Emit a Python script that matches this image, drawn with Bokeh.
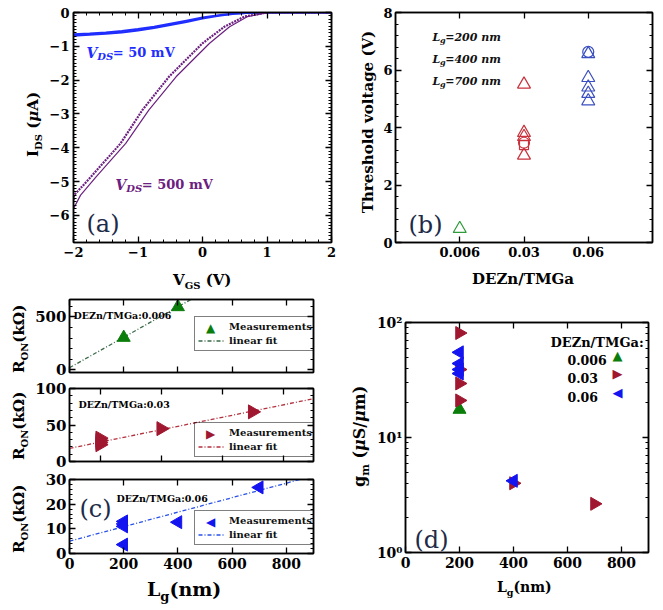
import math
from bokeh.plotting import figure
from bokeh.models import (Range1d, FactorRange, LinearAxis, LogAxis, CategoricalAxis, FixedTicker,
                          SingleIntervalTicker, Label, Legend, LegendItem, CustomJSTickFormatter, Div)
from bokeh.layouts import column, row
from bokeh.embed import file_html
from bokeh.resources import INLINE

# ---------------- data ----------------
# (a) transfer curves, I_DS (uA) vs V_GS (V)
a_vgs_50 = [-2, -1.75, -1.5, -1.25, -1, -0.75, -0.5, -0.25, 0, 0.25, 0.5, 0.75, 1, 1.5, 2]
a_ids_50_fwd = [-0.64, -0.62, -0.59, -0.55, -0.49, -0.42, -0.33, -0.24, -0.15, -0.08, -0.03, -0.01, 0, 0, 0]
a_ids_50_rev = [-0.69, -0.66, -0.63, -0.59, -0.53, -0.46, -0.37, -0.28, -0.18, -0.10, -0.04, -0.01, 0, 0, 0]
a_vgs_500_fwd = [-2, -1.99, -1.73, -1.27, -0.93, -0.52, 0.0, 0.34, 0.65, 0.91, 1.0, 1.5, 2]
a_ids_500_fwd = [-5.55, -5.40, -4.86, -3.87, -2.88, -1.90, -0.91, -0.42, -0.12, -0.03, 0, 0, 0]
a_vgs_500_rev = [-2, -1.89, -1.65, -1.19, -0.83, -0.41, 0.11, 0.42, 0.70, 0.95, 1.05, 1.5, 2]
a_ids_500_rev = [-5.8, -5.40, -4.86, -3.87, -2.88, -1.90, -0.91, -0.42, -0.12, -0.03, 0, 0, 0]

# (b) threshold voltage vs DEZn/TMGa
b_ratios = ["0.006", "0.03", "0.06"]
b_green_tri = [0.48]
b_red_tri = [5.50, 3.82, 3.68, 3.03]
b_red_circle = [3.47]
b_red_square = [3.39]
b_blue_tri = [6.56, 5.73, 5.40, 5.18, 4.92]
b_blue_circle = [6.63]
b_lg_labels = ["200", "400", "700"]

# (c) R_ON vs L_g
c1_lg = [200, 400]
c1_ron = [305, 595]
c1_fit_lg = [0, 450]
c1_fit_ron = [20, 668]
c2_lg = [200, 200, 200, 200, 400, 700]
c2_ron = [23, 26, 29, 32, 45, 68]
c2_fit_lg = [100, 900]
c2_fit_ron = [18, 86]
c3_lg = [200, 200, 200, 200, 400, 700]
c3_ron = [13, 12, 11, 3.6, 12.7, 26.8]
c3_fit_lg = [0, 850]
c3_fit_ron = [5, 30]

# (d) g_m vs L_g
d_green_lg = [200]
d_green_gm = [17.5]
d_red_lg = [200, 200, 200, 200, 400, 700]
d_red_gm = [81, 39, 29.5, 21, 4.0, 2.65]
d_blue_lg = [200, 200, 200, 200, 400]
d_blue_gm = [55, 44, 39, 36, 4.2]
d_legend_labels = ["0.006", "0.03", "0.06"]

# ---------------- styling helpers ----------------
SERIF = "DejaVu Serif"
NAVY = "#1d2b48"
UP, RIGHT, LEFT = "\u25B2\uFE0E", "\u25B6\uFE0E", "\u25C0\uFE0E"
CW = {' ': 0.348, '(': 0.457, ')': 0.457, '/': 0.365, '=': 0.838, '.': 0.380, ':': 0.380,
      'A': 0.774, 'D': 0.830, 'E': 0.730, 'G': 0.821, 'I': 0.465, 'L': 0.688, 'M': 1.055,
      'N': 0.846, 'O': 0.833, 'R': 0.770, 'S': 0.720, 'T': 0.682, 'V': 0.774, 'Z': 0.725,
      'a': 0.596, 'd': 0.640, 'e': 0.592, 'g': 0.640, 'i': 0.320, 'k': 0.613, 'l': 0.320,
      'm': 0.948, 'n': 0.644, 'o': 0.602, 'r': 0.478, 't': 0.402, 'μ': 0.660, 'Ω': 0.840}
for _d in "0123456789":
    CW[_d] = 0.696
ANCHOR = {}


def tw(s, size):
    return sum(CW.get(c, 0.62) for c in s) * size


def mkfig(w, h, l, r, t, b, xr, yr, y_type="linear", x0=None):
    p = figure(width=w, height=h, x_range=xr, y_range=yr, y_axis_type=y_type,
               toolbar_location=None, output_backend="svg", title=None,
               min_border_left=l, min_border_right=r, min_border_top=t, min_border_bottom=b)
    p.xgrid.visible = False
    p.ygrid.visible = False
    p.outline_line_color = "black"
    p.outline_line_width = 1.5
    p.background_fill_color = "white"
    p.border_fill_color = "white"
    ANCHOR[id(p)] = (xr.start if x0 is None else x0, yr.start)
    return p


def sty(ax, size=13, show=True, standoff=4):
    ax.axis_line_color = "black"
    ax.axis_line_width = 1.5
    ax.major_tick_in = 6
    ax.major_tick_out = 0
    ax.minor_tick_in = 3
    ax.minor_tick_out = 0
    ax.major_tick_line_color = "black"
    ax.major_tick_line_width = 1.3
    ax.minor_tick_line_color = "black"
    ax.minor_tick_line_width = 1
    ax.major_label_text_font = SERIF
    ax.major_label_text_font_style = "bold"
    ax.major_label_text_color = "black"
    ax.axis_label = None
    if show:
        ax.major_label_text_font_size = f"{size}px"
        ax.major_label_standoff = standoff
    else:
        ax.major_label_text_font_size = "0px"
        ax.major_label_standoff = 0
        ax.formatter = CustomJSTickFormatter(code="return ''")


def mirror(p, xt, yt, xcls=LinearAxis, ycls=LinearAxis):
    top = xcls(ticker=xt)
    right = ycls(ticker=yt)
    sty(top, show=False)
    sty(right, show=False)
    p.add_layout(top, "above")
    p.add_layout(right, "right")


def put(p, dx, dy, text, size, color="black", style="bold", angle=0.0, align="left",
        baseline="alphabetic", font=SERIF, level="annotation"):
    x0, y0 = ANCHOR[id(p)]
    p.add_layout(Label(x=x0, y=y0, x_offset=dx, y_offset=dy, text=text, level=level,
                       text_font=font, text_font_size=f"{size}px", text_font_style=style,
                       text_color=color, angle=angle, text_align=align, text_baseline=baseline))


def key(p, dx, dy, sym, color, size=13):
    # legend key symbol centred at (dx, dy) from the frame's bottom-left corner
    put(p, dx, dy, sym, size, color=color, style="normal", align="center", baseline="middle",
        font="DejaVu Sans")


def rich(p, dx, dy, pieces, color="black"):
    adv = 0.0
    for text, size, style, sub in pieces:
        put(p, dx + adv, dy - sub, text, size, color, style)
        adv += tw(text, size)


# ---- HTML labels for the texts that sit outside the plot frames ----
def span(text, size, italic=False, sub=0.0):
    st = f"font-size:{size}px;"
    if italic:
        st += "font-style:italic;"
    if sub:
        st += f"position:relative;top:{sub}px;"
    return f'<span style="{st}">{text}</span>'


def hbox(left, top, size, inner, width=None):
    st = (f"position:absolute;left:{left}px;top:{top}px;font-family:'DejaVu Serif';font-weight:bold;"
          f"font-size:{size}px;line-height:1;white-space:nowrap;color:black;")
    if width:
        st += f"width:{width}px;text-align:center;"
    return f'<div style="{st}">{inner}</div>'


def vbox(left, top, size, inner, width=None):
    st = (f"position:absolute;left:{left}px;top:{top}px;font-family:'DejaVu Serif';font-weight:bold;"
          f"font-size:{size}px;line-height:1;white-space:nowrap;color:black;"
          f"transform-origin:0 0;transform:rotate(-90deg);")
    if width:
        st += f"width:{width}px;text-align:center;"
    return f'<div style="{st}">{inner}</div>'


def holder(w, h, children):
    html = (f'<div style="position:relative;width:{w}px;height:{h}px;overflow:visible;">'
            + "".join(children) + "</div>")
    return Div(text=html, width=w, height=h, margin=0, styles={"overflow": "visible"})


BASE = 0.846  # baseline position inside a line-height:1 box, DejaVu Serif

# ---------------- (a) ----------------
pa = mkfig(300, 262, 28, 14, 12, 20, Range1d(-2, 2), Range1d(-6.8, 0))
xt_a = SingleIntervalTicker(interval=1, num_minor_ticks=5)
yt_a = SingleIntervalTicker(interval=1, num_minor_ticks=10)
pa.below[0].ticker = xt_a
pa.left[0].ticker = yt_a
sty(pa.below[0], 13)
sty(pa.left[0], 13)
mirror(pa, xt_a, yt_a)
BLUE_A = "#1f2dff"
PURPLE = "#6c2080"
pa.line(a_vgs_50, a_ids_50_rev, line_color=BLUE_A, line_width=2)
pa.line(a_vgs_50, a_ids_50_fwd, line_color=BLUE_A, line_width=2)
pa.line(a_vgs_500_rev, a_ids_500_rev, line_color=PURPLE, line_width=1.2)
pa.line(a_vgs_500_fwd, a_ids_500_fwd, line_color=PURPLE, line_width=2.2, line_dash="2 1")
rich(pa, 13, 190, [("V", 14, "bold italic", 0), ("DS", 10, "bold italic", 4), ("= 50 mV", 13, "bold", 0)],
     color=BLUE_A)
rich(pa, 42, 58, [("V", 14, "bold italic", 0), ("DS", 10, "bold italic", 4), ("= 500 mV", 13, "bold", 0)],
     color=PURPLE)
put(pa, 13, 19, "(a)", 24, color=NAVY, style="normal")

div_ay = holder(45, 296, [vbox(39 - BASE * 15, 157, 15,
                               span("I", 15) + span("DS", 10, sub=3.5) + span(" (", 15)
                               + span("&mu;", 15, italic=True) + span("A)", 15))])
div_ax = holder(300, 34, [hbox(128, 24 - BASE * 15, 15,
                               span("V", 15) + span("GS", 10, sub=3.5) + span(" (V)", 15))])

# ---------------- (b) ----------------
# factor coordinates: the three ratios sit at 0.5, 1.5, 2.5; padding makes the range -0.5 .. 3.5
pb = mkfig(281, 262, 16, 8, 12, 20, FactorRange(factors=b_ratios, range_padding=0.5,
                                                  range_padding_units="absolute"), Range1d(0, 8), x0=-0.5)
yt_b = SingleIntervalTicker(interval=2, num_minor_ticks=5)
pb.left[0].ticker = yt_b
sty(pb.below[0], 13)
sty(pb.left[0], 13, standoff=3)
mirror(pb, pb.below[0].ticker, yt_b, xcls=CategoricalAxis)
B_RED, B_BLUE, B_GREEN = "#c8323c", "#3a4fc0", "#2e9a3a"
pb.scatter([b_ratios[0]] * len(b_green_tri), b_green_tri, marker="triangle", size=13,
           fill_color=None, line_color=B_GREEN, line_width=1.2)
pb.scatter([b_ratios[1]] * len(b_red_tri), b_red_tri, marker="triangle", size=13,
           fill_color=None, line_color=B_RED, line_width=1.2)
pb.scatter([b_ratios[1]] * len(b_red_circle), b_red_circle, marker="circle", size=11,
           fill_color=None, line_color=B_RED, line_width=1.2)
pb.scatter([b_ratios[1]] * len(b_red_square), b_red_square, marker="square", size=9,
           fill_color=None, line_color=B_RED, line_width=1.2)
pb.scatter([b_ratios[2]] * len(b_blue_tri), b_blue_tri, marker="triangle", size=13,
           fill_color=None, line_color=B_BLUE, line_width=1.2)
pb.scatter([b_ratios[2]] * len(b_blue_circle), b_blue_circle, marker="circle", size=11,
           fill_color=None, line_color=B_BLUE, line_width=1.2)
put(pb, 13, 18, "(b)", 24, color=NAVY, style="normal")
for i, lab in enumerate(b_lg_labels):
    rich(pb, 37, 205.5 - 22 * i, [("L", 11, "bold italic", 0), ("g", 8, "bold italic", 3),
                                   ("=" + lab + " nm", 11, "bold italic", 0)], color="#111111")

div_by = holder(34, 296, [vbox(29 - BASE * 15, 221.5, 15, "Threshold voltage (V)", width=200)])
div_bx = holder(281, 34, [hbox(44, 23 - BASE * 15, 15, "DEZn/TMGa", width=200)])

# ---------------- (c) ----------------
C_GREEN, C_RED, C_BLUE = "#0b7d0b", "#a01830", "#1414f0"
F_GREEN, F_RED, F_BLUE = "#3a6a48", "#b4303c", "#2a52e8"


def cpanel(h, top, bottom, xr, yr, yint, show_x):
    p = mkfig(320, h, 36, 39, top, bottom, xr, yr)
    xt = SingleIntervalTicker(interval=200, num_minor_ticks=0)
    yt = SingleIntervalTicker(interval=yint, num_minor_ticks=5)
    p.below[0].ticker = xt
    p.left[0].ticker = yt
    sty(p.below[0], 14, show=show_x)
    sty(p.left[0], 15, standoff=3)
    mirror(p, xt, yt)
    return p


def c_legend(p, sym, color, lr, loc):
    x, y = loc
    # transparent legend body so that the key symbol drawn underneath stays visible
    p.add_layout(Legend(items=[LegendItem(label="Measurements", renderers=[]),
                               LegendItem(label="linear fit", renderers=[lr])],
                        location=loc, orientation="vertical", border_line_color="black",
                        border_line_width=1.5, background_fill_alpha=0.0,
                        padding=3, spacing=1, margin=0, glyph_height=13, glyph_width=26,
                        label_height=13, label_standoff=5, label_text_font=SERIF,
                        label_text_font_size="10px", label_text_font_style="bold",
                        label_text_color="#111111"))
    key(p, x + 3 + 13, y + 23.5, sym, color, size=12)


pc1 = cpanel(84, 3, 8, Range1d(0, 900), Range1d(-25, 665), 500, False)
l1 = pc1.line(c1_fit_lg, c1_fit_ron, line_color=F_GREEN, line_width=1.3, line_dash="4 2 1 2")
pc1.scatter(c1_lg, c1_ron, marker="triangle", size=13, fill_color=C_GREEN, line_color=C_GREEN)
c_legend(pc1, UP, C_GREEN, l1, (125, 21))
put(pc1, 4, 57, "DEZn/TMGa:0.006", 9.5)

pc2 = cpanel(90, 8, 9, Range1d(100, 900), Range1d(0, 100), 50, False)
l2 = pc2.line(c2_fit_lg, c2_fit_ron, line_color=F_RED, line_width=1.3, line_dash="4 2 1 2")
pc2.scatter(c2_lg, c2_ron, marker="triangle", angle=-math.pi / 2, size=14,
            fill_color=C_RED, line_color=C_RED)
c_legend(pc2, RIGHT, C_RED, l2, (125, 4))
put(pc2, 9, 57, "DEZn/TMGa:0.03", 9.5)

pc3 = cpanel(103, 9, 20, Range1d(0, 900), Range1d(0, 30), 10, True)
l3 = pc3.line(c3_fit_lg, c3_fit_ron, line_color=F_BLUE, line_width=1.3, line_dash="4 2 1 2")
pc3.scatter(c3_lg, c3_ron, marker="triangle", angle=math.pi / 2, size=13,
            fill_color=C_BLUE, line_color=C_BLUE)
c_legend(pc3, LEFT, C_BLUE, l3, (125, 8))
put(pc3, 47, 55, "DEZn/TMGa:0.06", 9.5)
put(pc3, 10, 45, "(c)", 24, color=NAVY, style="normal")

ron_html = span("R", 15) + span("ON", 10, sub=4) + span("(k&Omega;)", 15)
div_cy = holder(32, 314, [vbox(24.5 - BASE * 15, t, 15, ron_html) for t in (77, 164, 257)])
div_cx = holder(320, 35, [hbox(115, 23 - BASE * 19, 19,
                               span("L", 19) + span("g", 13, sub=5) + span("(nm)", 19))])

# ---------------- (d) ----------------
pd_ = mkfig(287, 276, 30, 12, 26, 20, Range1d(0, 900), Range1d(1, 100), y_type="log")
xt_d = SingleIntervalTicker(interval=200, num_minor_ticks=0)
yt_d = FixedTicker(ticks=[1, 10, 100], minor_ticks=[2, 3, 4, 5, 6, 7, 8, 9, 20, 30, 40, 50, 60, 70, 80, 90])
pd_.below[0].ticker = xt_d
pd_.left[0].ticker = yt_d
sty(pd_.below[0], 14)
sty(pd_.left[0], 14, standoff=3)
pd_.left[0].major_label_overrides = {1: "10⁰", 10: "10¹", 100: "10²"}
mirror(pd_, xt_d, yt_d, ycls=LogAxis)
pd_.scatter(d_green_lg, d_green_gm, marker="triangle", size=13, fill_color=C_GREEN, line_color=C_GREEN)
pd_.scatter(d_red_lg, d_red_gm, marker="triangle", angle=-math.pi / 2, size=13,
            fill_color=C_RED, line_color=C_RED)
pd_.scatter(d_blue_lg, d_blue_gm, marker="triangle", angle=math.pi / 2, size=13,
            fill_color=C_BLUE, line_color=C_BLUE)
put(pd_, 145, 210, "DEZn/TMGa:", 13)
for i, (lab, sym, col) in enumerate(zip(d_legend_labels, [UP, RIGHT, LEFT], [C_GREEN, C_RED, C_BLUE])):
    put(pd_, 162, [193, 175, 156][i], lab, 12.5)
    key(pd_, 212, [197, 179, 160][i], sym, col)
put(pd_, 9, 13, "(d)", 24, color=NAVY, style="normal")

div_dy = holder(21, 314, [vbox(14 - BASE * 16, 191, 16,
                               span("g", 16) + span("m", 11, sub=4) + span(" (", 16)
                               + span("&mu;", 16, italic=True) + span("S/", 16)
                               + span("&mu;", 16, italic=True) + span("m)", 16))])
div_dx = holder(287, 35, [hbox(124, 20 - BASE * 14, 14,
                               span("L", 14) + span("g", 9.5, sub=4) + span("(nm)", 14))])

top_row = row(div_ay, column(pa, div_ax), div_by, column(pb, div_bx))
bottom_row = row(div_cy, column(pc1, pc2, pc3, div_cx), div_dy, column(pd_, div_dx))
layout = column(top_row, bottom_row)
open("out.html", "w", encoding="utf-8").write(file_html(layout, INLINE))
